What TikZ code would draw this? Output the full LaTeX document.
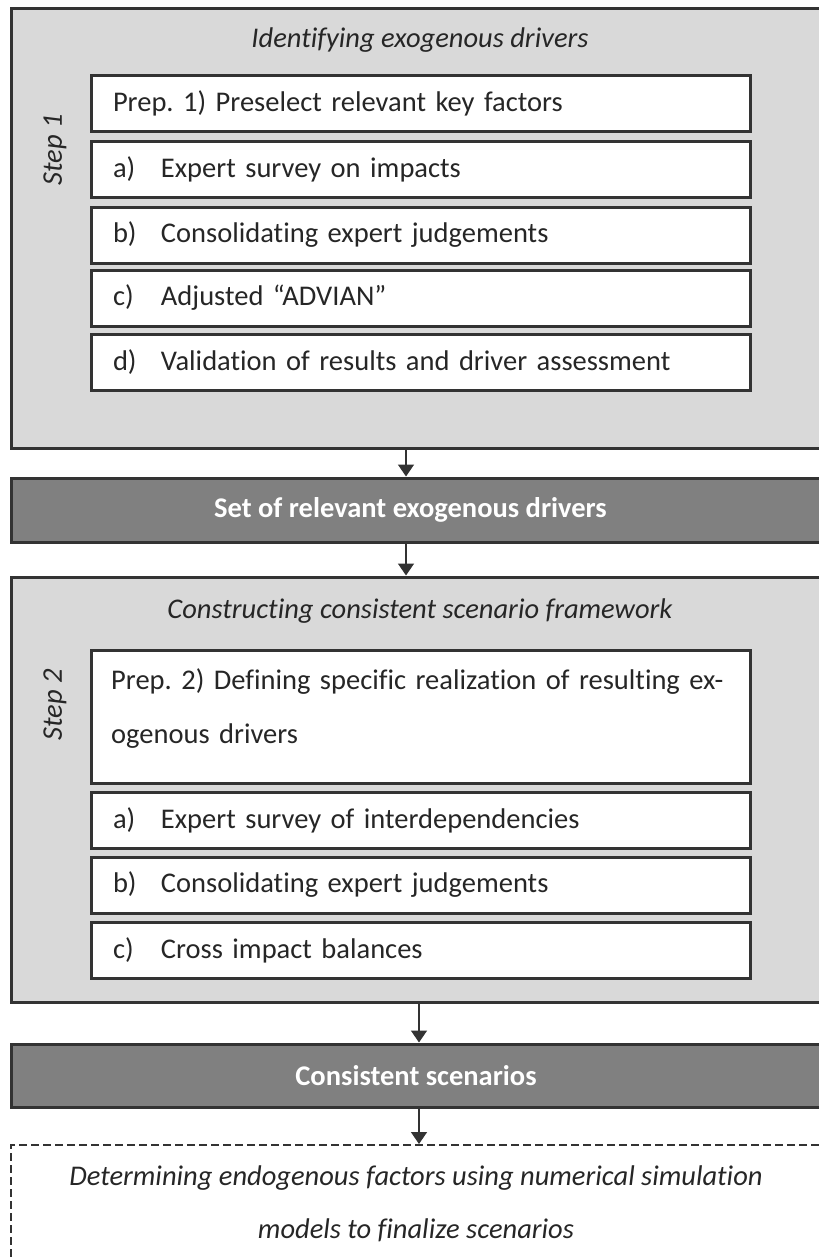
\documentclass[tikz,border=0pt]{standalone}
\usepackage{fontspec}
\setmainfont[Ligatures=NoCommon]{Carlito}
\usetikzlibrary{arrows.meta}
\definecolor{lineC}{HTML}{333333}
\definecolor{lightC}{HTML}{D9D9D9}
\definecolor{darkC}{HTML}{808080}
\definecolor{textC}{HTML}{262626}
\tikzset{
  stepframe/.style={draw=lineC,line width=3pt,fill=lightC,minimum width=810pt,inner sep=0pt},
  darkbar/.style={draw=lineC,line width=3pt,fill=darkC,minimum width=810pt,inner sep=0pt,text=white,font=\fontsize{28.5}{34}\selectfont\bfseries},
  itembox/.style={draw=lineC,line width=3pt,fill=white,minimum width=659pt,minimum height=56pt,inner sep=0pt,text width=615pt,align=left,text=textC,font=\fontsize{28.5}{34}\selectfont},
  titletext/.style={text=textC,font=\fontsize{28.5}{34}\selectfont\itshape,inner sep=0pt},
  arr/.style={draw=lineC,line width=1.5pt,-{Triangle[width=16pt,length=12pt]}},
}
\newcommand{\lbl}[2]{\makebox[48pt][l]{#1}#2}
\frenchspacing
\begin{document}
\begin{tikzpicture}[x=1pt,y=-1pt]
\useasboundingbox (0,0) rectangle (819,1258);
% Step 1 frame
\node[stepframe,minimum height=440pt] (step1) at (416,228) {};
\node[titletext] (t1) at (420,40) {Identifying exogenous drivers};
\node[titletext,rotate=90] (s1) at (55,150) {Step 1};
\node[itembox] (p1) at (420.5,103.5) {\frenchspacing Prep. 1) Preselect relevant key factors};
\node[itembox] (a1) at (420.5,169.5) {\lbl{a)}{Expert survey on impacts}};
\node[itembox] (b1) at (420.5,235) {\lbl{b)}{Consolidating expert judgements}};
\node[itembox] (c1) at (420.5,298) {\lbl{c)}{Adjusted “ADVIAN”}};
\node[itembox] (d1) at (420.5,362.5) {\lbl{d)}{Validation of results and driver assessment}};
% bar 1
\node[darkbar,minimum height=64pt] (bar1) at (416,510) {\hspace*{-11pt}Set of relevant exogenous drivers};
% Step 2 frame
\node[stepframe,minimum height=425pt] (step2) at (416,789.5) {};
\node[titletext] (t2) at (420,611) {Constructing consistent scenario framework};
\node[titletext,rotate=90] (s2) at (55,705) {Step 2};
\node[itembox,minimum height=133pt] (p2) at (420.5,716.5) {};
\node[anchor=north west,text width=630pt,align=left,inner sep=0pt,text=textC,font=\fontsize{28.5}{54}\selectfont] (p2t) at (111,668) {\frenchspacing Prep. 2) Defining specific realization of resulting ex-\\ogenous drivers};
\node[itembox] (a2) at (420.5,820) {\lbl{a)}{Expert survey of interdependencies}};
\node[itembox] (b2) at (420.5,885) {\lbl{b)}{Consolidating expert judgements}};
\node[itembox] (c2) at (420.5,950) {\lbl{c)}{Cross impact balances}};
% bar 2
\node[darkbar,minimum height=63pt] (bar2) at (416,1075.5) {Consistent scenarios};
% final dashed box
\node[draw=lineC,line width=2pt,dash pattern=on 8pt off 4pt,minimum width=810pt,minimum height=160pt,inner sep=0pt] (fin) at (416,1225) {};
\node[titletext,anchor=north,align=center,font=\fontsize{28.5}{53}\selectfont\itshape] (fint) at (416,1165) {Determining endogenous factors using numerical simulation\\models to finalize scenarios};
% arrows
\coordinate (ax1) at (406,0);
\coordinate (ax2) at (419,0);
\draw[arr] (step1.south -| ax1) -- (bar1.north -| ax1);
\draw[arr] (bar1.south -| ax1) -- (step2.north -| ax1);
\draw[arr] (step2.south -| ax2) -- (bar2.north -| ax2);
\draw[arr] (bar2.south -| ax2) -- (fin.north -| ax2);
\end{tikzpicture}
\end{document}
